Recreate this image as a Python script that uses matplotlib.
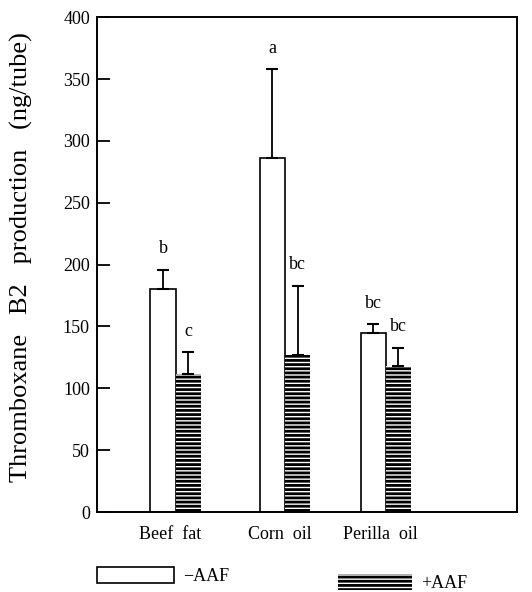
import numpy as np
import matplotlib
matplotlib.use("Agg")
import matplotlib.pyplot as plt

# data
groups = ["Beef  fat", "Corn  oil", "Perilla  oil"]
minus_aaf = [180, 286, 145]
minus_err = [16, 72, 7]
plus_aaf = [112, 127, 118]
plus_err = [17, 56, 15]
minus_letters = ["b", "a", "bc"]
plus_letters = ["c", "bc", "bc"]
yticks = [0, 50, 100, 150, 200, 250, 300, 350, 400]

plt.rcParams['font.family'] = ['Liberation Serif', 'DejaVu Serif']
plt.rcParams['hatch.linewidth'] = 2.0

fig = plt.figure(figsize=(5.32, 5.92), dpi=100)
ax = fig.add_axes([0.182, 0.135, 0.79, 0.836])

# group centres (the original spacing is a little uneven)
x = np.array([0.0, 1.04, 2.0])
w = 0.24
off = 0.12

b1 = ax.bar(x - off, minus_aaf, w, facecolor='white', edgecolor='black', linewidth=1.2)
b2 = ax.bar(x + off, plus_aaf, w, facecolor='white', edgecolor='black', linewidth=0,
            hatch='----')

ax.errorbar(x - off, minus_aaf, yerr=[np.zeros(3), minus_err], fmt='none', ecolor='black',
            elinewidth=1.3, capsize=4, capthick=1.5)
ax.errorbar(x + off, plus_aaf, yerr=[np.zeros(3), plus_err], fmt='none', ecolor='black',
            elinewidth=1.3, capsize=4, capthick=1.5)

for xi, v, e, t in zip(x - off, minus_aaf, minus_err, minus_letters):
    ax.text(xi, v + e + 10, t, ha='center', va='bottom', fontsize=13)
for xi, v, e, t in zip(x + off, plus_aaf, plus_err, plus_letters):
    ax.text(xi, v + e + 10, t, ha='center', va='bottom', fontsize=13)

ax.set_xlim(-0.75, 3.25)
ax.set_ylim(0, 400)
ax.set_yticks(yticks)
ax.tick_params(axis='y', direction='in', length=9, width=1.3, labelsize=13, pad=5)
ax.set_xticks(x - 0.05)
ax.set_xticklabels(groups, fontsize=13)
ax.tick_params(axis='x', length=0, pad=10)
for s in ax.spines.values():
    s.set_linewidth(1.4)

ax.set_ylabel("Thromboxane   B2   production   (ng/tube)", fontsize=19)
ax.yaxis.set_label_coords(-0.153, 0.515)

# legend: two separate entries, far apart as in the original
leg1 = fig.legend(handles=[b1], labels=['−AAF'], loc='center left',
                  bbox_to_anchor=(0.182, 0.027), frameon=False, handlelength=4.3,
                  handleheight=1.0, fontsize=13, handletextpad=0.5,
                  borderpad=0, borderaxespad=0)
leg2 = fig.legend(handles=[b2], labels=['+AAF'], loc='center left',
                  bbox_to_anchor=(0.635, 0.015), frameon=False, handlelength=4.1,
                  handleheight=1.0, fontsize=13, handletextpad=0.5,
                  borderpad=0, borderaxespad=0)

fig.savefig("out.png", dpi=100)
